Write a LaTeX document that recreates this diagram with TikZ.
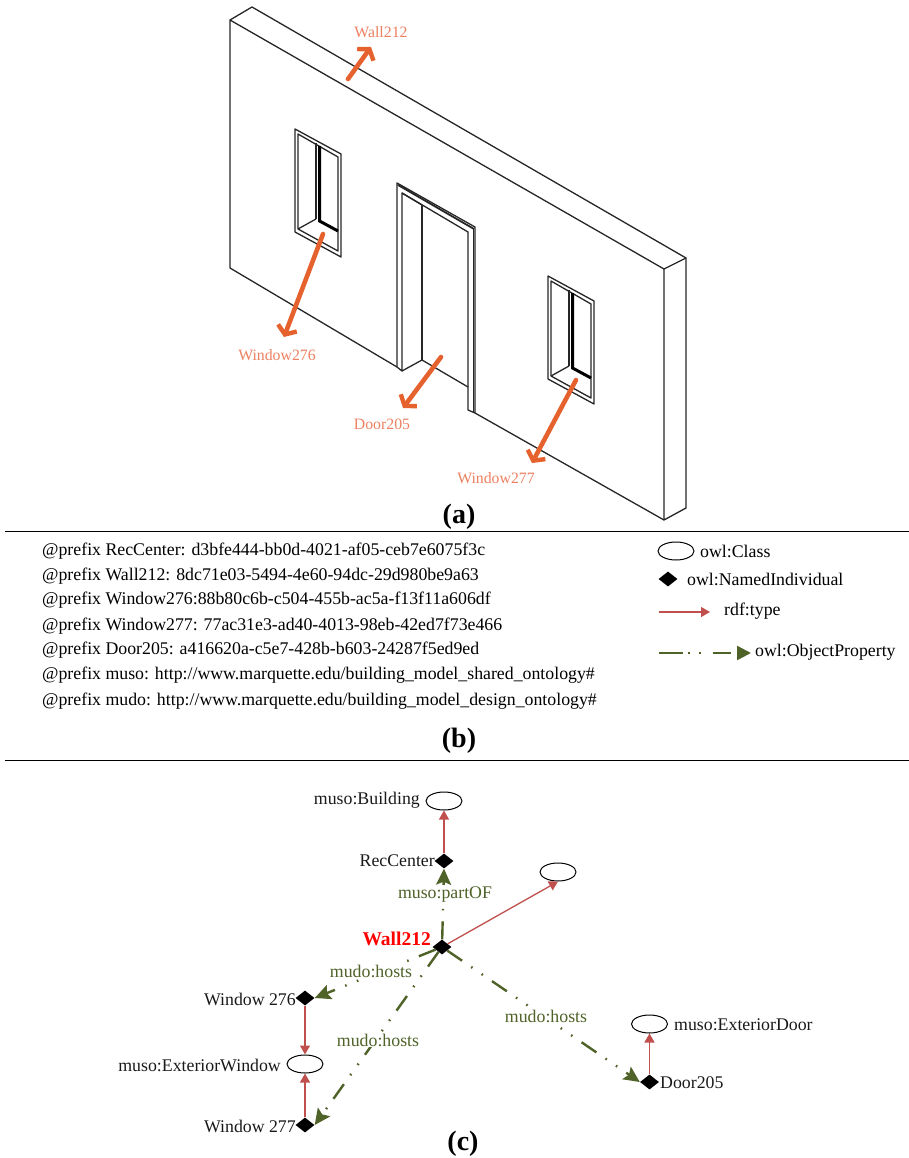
\documentclass[tikz,border=0pt]{standalone}
\usepackage{fontspec}
\setmainfont{Liberation Serif}
\usetikzlibrary{arrows.meta,shapes.geometric}
\definecolor{orangearrow}{HTML}{E5622E}
\definecolor{orangetext}{HTML}{EC8060}
\definecolor{redline}{HTML}{C0504D}
\definecolor{greenline}{HTML}{4F6228}
\tikzset{
  wallline/.style={draw=black!85,line width=1.3pt,line join=round},
  thickline/.style={draw=black,line width=3pt},
  bigarrow/.style={draw=orangearrow,line width=4.6pt,line cap=round,-{Straight Barb[length=7pt,width=20pt,line width=4.4pt]}},
  orangelabel/.style={text=orangetext,font=\fontsize{15.8}{18}\selectfont,inner sep=0pt},
  panellabel/.style={font=\bfseries\fontsize{28}{30}\selectfont,inner sep=0pt},
  prefixline/.style={anchor=west,font=\fontsize{17.8}{20}\selectfont,inner sep=0pt},
  nodetext/.style={font=\fontsize{17.8}{20}\selectfont,inner sep=0pt,text=black!90},
  cls/.style={draw=black,ellipse,line width=1pt,fill=white,minimum width=36pt,minimum height=18pt,inner sep=0pt},
  indiv/.style={fill=black,diamond,minimum width=19pt,minimum height=15pt,inner sep=0pt},
  typearrow/.style={draw=redline,line width=1.3pt,-{Triangle[length=9pt,width=10pt]}},
  objarrow/.style={draw=greenline,line width=2.4pt,dash pattern=on 18pt off 11pt on 1.6pt off 11pt on 1.6pt off 11pt,-{Stealth[length=16pt,width=15pt,inset=3pt,color=greenline]}},
  edgelabel/.style={text=greenline,fill=white,font=\fontsize{17.8}{20}\selectfont,inner sep=1pt},
  ruleline/.style={draw=black,line width=1pt}
}
\newcommand{\windowshape}[2]{%
  \begin{scope}[shift={(#1,#2)}]
    \draw[wallline] (295,129) -- (341,154) -- (341,257) -- (295,232) -- cycle;
    \draw[wallline] (298,134) -- (338,157) -- (338,251) -- (298,229) -- cycle;
    \draw[wallline] (298,229) -- (316,219);
    \draw[wallline] (316,143) -- (316,219);
    \draw[thickline] (319.5,146) -- (319.5,221) -- (338,231);
  \end{scope}}
\begin{document}
\begin{tikzpicture}[x=1pt,y=-1pt]
\useasboundingbox (0,0) rectangle (909,1158);
% wall
\draw[wallline] (230,268) -- (230,20) -- (252,7) -- (686,258) -- (686,508) -- (664,520) -- (664,269) -- (230,20);
\draw[wallline] (664,269) -- (686,258);
\draw[wallline] (230,268) -- (397,367);
\draw[wallline] (475,413) -- (664,520);
% windows
\windowshape{0}{0}
\windowshape{253}{147}
% door
\draw[wallline] (397,367) -- (397,183) -- (475,227) -- (475,413) -- (468,410) -- (468,232) -- (402,193) -- (402,371) -- (397,367);
\draw[wallline,line width=1.8pt] (398,185) -- (474,229);
\draw[wallline] (473.5,229) -- (473.5,412);
\draw[wallline] (402,371) -- (422,360) -- (468,387);
\draw[wallline] (422,205) -- (422,360);
\draw[wallline] (422,205) -- (402,193);
% orange arrows
\coordinate (wa) at (348,79); \coordinate (wb) at (371,47);
\coordinate (w1a) at (323,234); \coordinate (w1b) at (284,337);
\coordinate (da) at (441,357); \coordinate (db) at (403,408);
\coordinate (w2a) at (576,380); \coordinate (w2b) at (532,463);
\draw[bigarrow] (wa) -- (wb);
\draw[bigarrow] (w1a) -- (w1b);
\draw[bigarrow] (da) -- (db);
\draw[bigarrow] (w2a) -- (w2b);
\node[orangelabel] (lw) at (381,32) {Wall212};
\node[orangelabel] (lw1) at (277,355) {Window276};
\node[orangelabel] (ld) at (382,424) {Door205};
\node[orangelabel] (lw2) at (496,478) {Window277};
% panels and rules
\node[panellabel] (pa) at (459,517) {(a)};
\node[panellabel] (pb) at (459,741) {(b)};
\node[panellabel] (pc) at (463,1144) {(c)};
\coordinate (r1a) at (5,531); \coordinate (r1b) at (909,531);
\coordinate (r2a) at (5,760); \coordinate (r2b) at (909,760);
\draw[ruleline] (r1a) -- (r1b);
\draw[ruleline] (r2a) -- (r2b);
% prefixes
\node[prefixline] (p1) at (42,551) {@prefix RecCenter: d3bfe444-bb0d-4021-af05-ceb7e6075f3c};
\node[prefixline] (p2) at (42,576) {@prefix Wall212: 8dc71e03-5494-4e60-94dc-29d980be9a63};
\node[prefixline] (p3) at (42,600) {@prefix Window276:88b80c6b-c504-455b-ac5a-f13f11a606df};
\node[prefixline] (p4) at (42,626) {@prefix Window277: 77ac31e3-ad40-4013-98eb-42ed7f73e466};
\node[prefixline] (p5) at (42,650) {@prefix Door205: a416620a-c5e7-428b-b603-24287f5ed9ed};
\node[prefixline] (p6) at (42,675) {@prefix muso: http://www.marquette.edu/building\_model\_shared\_ontology\#};
\node[prefixline] (p7) at (42,701) {@prefix mudo: http://www.marquette.edu/building\_model\_design\_ontology\#};
% legend
\node[cls] (lc) at (676,551) {};
\node[prefixline] (lct) at (700,551) {owl:Class};
\node[indiv] (li) at (668,579) {};
\node[prefixline] (lit) at (687,579) {owl:NamedIndividual};
\coordinate (lta) at (659,612); \coordinate (ltb) at (710,612);
\draw[typearrow] (lta) -- (ltb);
\node[prefixline] (ltt) at (724,611) {rdf:type};
\coordinate (loa) at (659,653); \coordinate (lob) at (751,653);
\draw[objarrow,dash pattern=on 24pt off 5pt on 1.6pt off 9.5pt on 1.6pt off 12pt on 18pt off 100pt,-{Stealth[length=14pt,width=14pt,inset=0pt,color=greenline]}] (loa) -- (lob);
\node[prefixline] (lot) at (755,652) {owl:ObjectProperty};
% graph nodes
\node[cls] (building) at (444,801) {};
\node[indiv] (rec) at (444,861) {};
\node[cls] (anon) at (558,872) {};
\node[indiv] (wall) at (442,947) {};
\node[indiv] (w276) at (305,998) {};
\node[cls] (extw) at (305,1064) {};
\node[indiv] (w277) at (305,1125) {};
\node[indiv] (door) at (649.5,1082) {};
\node[cls] (extd) at (649.5,1024) {};
% graph text
\node[nodetext,anchor=east] (tb) at (420,800) {muso:Building};
\node[nodetext,anchor=east] (tr) at (435,861) {RecCenter};
\node[anchor=east,inner sep=0pt,text=red,font=\bfseries\fontsize{19.5}{22}\selectfont] (tw) at (431,939) {Wall212};
\node[nodetext,anchor=east] (t276) at (296,999) {Window 276};
\node[nodetext,anchor=east] (text) at (281,1065) {muso:ExteriorWindow};
\node[nodetext,anchor=east] (t277) at (296,1126) {Window 277};
\node[nodetext,anchor=west] (td) at (660,1083) {Door205};
\node[nodetext,anchor=west] (ted) at (674,1025) {muso:ExteriorDoor};
% connectors
\draw[typearrow] (rec) -- (building);
\draw[typearrow] (wall) -- (anon.south);
\draw[typearrow] (w276) -- (extw);
\draw[typearrow] (w277) -- (extw);
\draw[typearrow] (door) -- (extd);
\draw[objarrow] (wall) -- (rec.south);
\draw[objarrow] (wall) -- (w276.east);
\draw[objarrow] (wall) -- (w277.east);
\draw[objarrow] (wall) -- (door.west);
\node[edgelabel] (e1) at (445,894) {muso:partOF};
\node[edgelabel] (e2) at (371,971) {mudo:hosts};
\node[edgelabel] (e3) at (378,1040) {mudo:hosts};
\node[edgelabel] (e4) at (546,1016) {mudo:hosts};
\end{tikzpicture}
\end{document}
